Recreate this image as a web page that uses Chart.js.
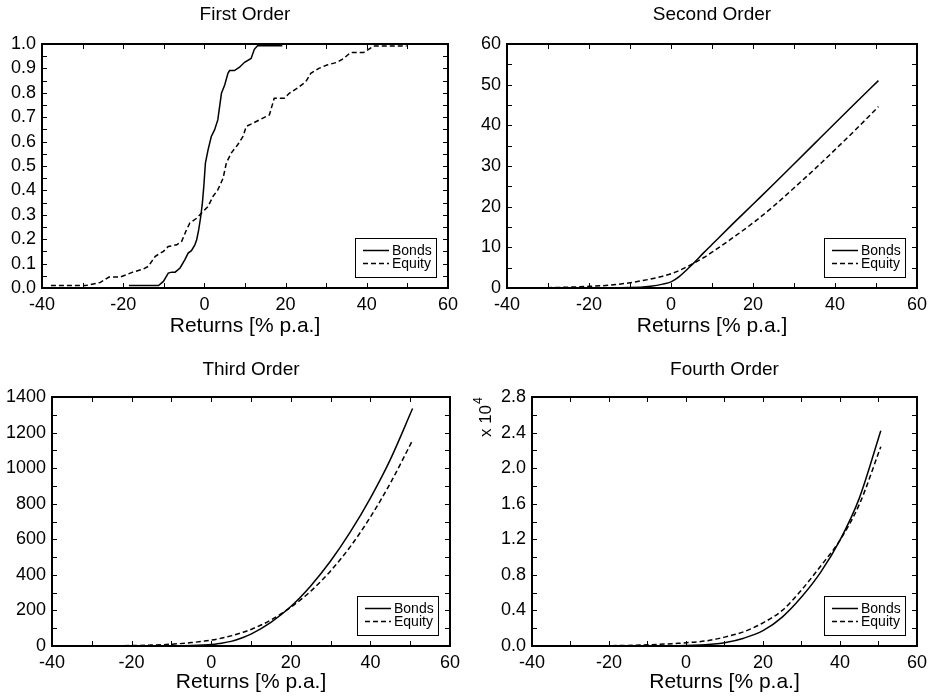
<!DOCTYPE html>
<html><head><meta charset="utf-8">
<script src="https://cdn.jsdelivr.net/npm/chart.js@4.4.0/dist/chart.umd.min.js"></script>
<style>
html,body{margin:0;padding:0;background:#fff;}
#wrap{position:relative;width:933px;height:698px;overflow:hidden;background:#fff;}
canvas{position:absolute;}
</style></head><body>
<div id="wrap">
<canvas id="c1" width="466" height="349" style="left:0;top:0"></canvas>
<canvas id="c2" width="467" height="349" style="left:466px;top:0"></canvas>
<canvas id="c3" width="466" height="349" style="left:0;top:349px"></canvas>
<canvas id="c4" width="467" height="349" style="left:466px;top:349px"></canvas>
</div>
<script>
// ---------- data ----------
const seriesNames = ['Bonds', 'Equity'];
const panelTitles = ['First Order', 'Second Order', 'Third Order', 'Fourth Order'];
const xAxisTitle = 'Returns [% p.a.]';

// First order (empirical distribution)
const firstBondsX = [-18.6,-11.3,-10.1,-8.9,-8.05,-7.2,-6.0,-4.8,-4.0,-3.2,-2.35,-1.9,-1.4,-0.9,-0.5,-0.15,0.25,0.9,1.7,2.5,3.3,4.2,5.0,5.8,6.2,7.4,8.65,9.9,11.5,12.3,13.1,19.2];
const firstBondsY = [0.01,0.01,0.027,0.061,0.065,0.065,0.082,0.116,0.143,0.153,0.177,0.198,0.239,0.293,0.348,0.416,0.512,0.566,0.621,0.648,0.689,0.798,0.832,0.88,0.891,0.891,0.905,0.925,0.941,0.978,0.993,0.993];
const firstEquityX = [-37.8,-29.2,-25.6,-23.5,-20.7,-17.8,-15.0,-13.8,-12.1,-10.1,-8.9,-6.8,-5.6,-4.4,-3.6,-1.9,-0.7,0.9,2.1,3.3,4.6,5.4,6.6,8.2,9.5,10.3,11.9,14.4,16.0,17.2,19.7,20.9,22.9,25.0,26.2,28.2,30.2,32.7,34.3,36.0,39.2,41.7,49.8];
const firstEquityY = [0.01,0.01,0.023,0.045,0.045,0.064,0.078,0.089,0.13,0.15,0.17,0.177,0.191,0.239,0.266,0.286,0.307,0.334,0.375,0.402,0.45,0.512,0.553,0.587,0.621,0.662,0.675,0.696,0.709,0.778,0.778,0.798,0.819,0.846,0.88,0.9,0.914,0.925,0.941,0.965,0.965,0.992,0.992];

// Higher orders share one return grid
const gridX = [-38,-30,-25,-20,-15,-10,-5,-2,0,2,5,8,10,15,20,25,30,35,40,45,50.6];
const secondBonds  = [0,0,0,0.01,0.05,0.1,0.45,0.95,1.5,2.8,5.6,8.7,10.7,15.7,20.6,25.5,30.5,35.5,40.5,45.5,51.0];
const secondEquity = [0,0.08,0.2,0.4,0.7,1.3,2.2,2.9,3.5,4.3,5.8,7.5,8.8,12.3,16.0,20.1,24.6,29.2,34.0,38.9,44.6];
const thirdBonds   = [0,0,0.1,0.2,0.5,1,2.5,5,8,14,26,48,67,133,222,338,478,643,832,1048,1335];
const thirdEquity  = [0,0.3,1,2.5,5,10,19,27,33,41,57,77,93,146,218,308,422,560,725,915,1157];
const fourthBonds  = [0,0,0,2,5,10,25,36,49,71,131,242,357,880,1720,3250,5500,8300,11900,16600,24200];
const fourthEquity = [0,5,15,35,70,130,230,300,360,430,560,800,1000,1600,2600,4000,6300,9000,11900,15900,22400];

// y tick settings (values)
const yMax = [1, 60, 1400, 28000];
const yStep = [0.1, 10, 200, 4000];

// ---------- helpers ----------
const FAMILY = '"Liberation Sans", Arial, Helvetica, sans-serif';
function pts(xs, ys){ return xs.map((x,i)=>({x:x, y:ys[i]})); }

const frameTicks = {
  id: 'frameTicks',
  afterDraw(chart, args, o) {
    const {ctx, chartArea: a, scales: {x, y}} = chart;
    ctx.save();
    ctx.strokeStyle = '#000';
    ctx.fillStyle = '#000';
    ctx.lineWidth = 1;
    const tl = 5;
    ctx.beginPath();
    const nx = Math.round((x.max - x.min) / o.xMinor);
    for (let i = 0; i <= nx; i++) {
      const px = Math.round(x.getPixelForValue(x.min + i * o.xMinor)) + 0.5;
      ctx.moveTo(px, a.bottom); ctx.lineTo(px, a.bottom - tl);
      ctx.moveTo(px, a.top); ctx.lineTo(px, a.top + tl);
    }
    const ny = Math.round((y.max - y.min) / o.yMinor);
    for (let i = 0; i <= ny; i++) {
      const py = Math.round(y.getPixelForValue(y.min + i * o.yMinor)) + 0.5;
      ctx.moveTo(a.left, py); ctx.lineTo(a.left + tl, py);
      ctx.moveTo(a.right, py); ctx.lineTo(a.right - tl, py);
    }
    ctx.stroke();
    ctx.lineWidth = 2;
    ctx.strokeRect(a.left, a.top, a.right - a.left, a.bottom - a.top);

    // panel title
    ctx.font = '19px ' + FAMILY;
    ctx.textAlign = 'center';
    ctx.textBaseline = 'middle';
    ctx.fillText(o.title, (a.left + a.right) / 2, a.top - o.titleOffset);

    // legend box
    const w = 81, h = 39;
    const bx = a.right - 12 - w, by = a.bottom - 11 - h;
    ctx.fillStyle = '#fff';
    ctx.fillRect(bx, by, w, h);
    ctx.lineWidth = 1;
    ctx.strokeStyle = '#000';
    ctx.strokeRect(bx + 0.5, by + 0.5, w, h);
    ctx.font = '14px ' + FAMILY;
    ctx.textAlign = 'left';
    ctx.fillStyle = '#000';
    chart.data.datasets.forEach((ds, i) => {
      const ry = by + 12.5 + i * 13;
      ctx.save();
      ctx.lineWidth = ds.borderWidth;
      ctx.setLineDash(ds.borderDash || []);
      ctx.beginPath();
      ctx.moveTo(bx + 8, ry); ctx.lineTo(bx + 34, ry);
      ctx.stroke();
      ctx.restore();
      ctx.fillText(ds.label, bx + 37, ry + 1);
    });

    // exponent label (rotated, reading upward)
    if (o.exponent) {
      ctx.save();
      ctx.translate(a.left - 46, a.top + 20);
      ctx.rotate(-Math.PI / 2);
      ctx.textAlign = 'left';
      ctx.textBaseline = 'middle';
      ctx.font = '17px ' + FAMILY;
      const base = 'x 10';
      const bw = ctx.measureText(base).width;
      const x0 = -(bw + 8) / 2;
      ctx.fillText(base, x0, 0);
      ctx.font = '12px ' + FAMILY;
      ctx.fillText('4', x0 + bw + 1, -7);
      ctx.restore();
    }
    ctx.restore();
  }
};

function datasets(b, e) {
  const common = {borderColor:'#000', backgroundColor:'#000', borderWidth:1.5, pointRadius:0, fill:false};
  return [
    Object.assign({label: seriesNames[0], data: b}, common),
    Object.assign({label: seriesNames[1], data: e, borderDash:[5,3]}, common)
  ];
}

function makeChart(id, idx, data, lay, smooth) {
  const ds = datasets(data[0], data[1]);
  if (smooth) ds.forEach(d => { d.cubicInterpolationMode = 'monotone'; });
  else ds.forEach(d => { d.tension = 0; });
  const yCb = idx === 0 ? (v => v.toFixed(1))
            : idx === 3 ? (v => (v / 10000).toFixed(1))
            : (v => String(v));
  return new Chart(document.getElementById(id), {
    type: 'line',
    data: { datasets: ds },
    options: {
      responsive: false, animation: false, devicePixelRatio: 1,
      layout: { padding: { left: 0, top: lay.top, right: lay.right, bottom: 0 } },
      plugins: {
        legend: { display: false }, tooltip: { enabled: false },
        frameTicks: { title: panelTitles[idx], titleOffset: lay.titleOffset, xMinor: 10, yMinor: yStep[idx] / 2, exponent: idx === 3 }
      },
      scales: {
        x: {
          type: 'linear', min: -40, max: 60,
          grid: { display: false, drawTicks: false }, border: { display: false },
          ticks: { stepSize: 20, color: '#000', font: { size: 18, family: FAMILY }, padding: 6, maxRotation: 0, autoSkip: false },
          title: { display: true, text: xAxisTitle, color: '#000', font: { size: 21, family: FAMILY }, padding: { top: 0, bottom: lay.tPad } },
          afterFit(s) { s.height = lay.xh; }
        },
        y: {
          type: 'linear', min: 0, max: yMax[idx],
          grid: { display: false, drawTicks: false }, border: { display: false },
          ticks: { stepSize: yStep[idx], autoSkip: false, color: '#000', font: { size: 18, family: FAMILY }, padding: 6, callback: yCb },
          afterFit(s) { s.width = lay.yw; }
        }
      }
    },
    plugins: [frameTicks]
  });
}

makeChart('c1', 0, [pts(firstBondsX, firstBondsY), pts(firstEquityX, firstEquityY)],
  { top: 44, right: 18, xh: 61, yw: 42, tPad: 10, titleOffset: 29 }, false);
makeChart('c2', 1, [pts(gridX, secondBonds), pts(gridX, secondEquity)],
  { top: 44, right: 16, xh: 61, yw: 41, tPad: 10, titleOffset: 29 }, true);
makeChart('c3', 2, [pts(gridX, thirdBonds), pts(gridX, thirdEquity)],
  { top: 48, right: 14, xh: 52, yw: 52, tPad: 3, titleOffset: 27 }, true);
makeChart('c4', 3, [pts(gridX, fourthBonds), pts(gridX, fourthEquity)],
  { top: 48, right: 14, xh: 52, yw: 66, tPad: 3, titleOffset: 27 }, true);
</script>
</body></html>
